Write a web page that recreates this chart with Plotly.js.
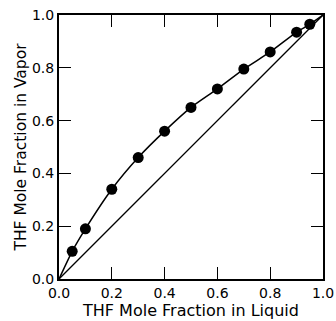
<!DOCTYPE html>
<html>
<head>
<meta charset="utf-8">
<script src="https://cdn.plot.ly/plotly-3.0.1.min.js"></script>
<style>html,body{margin:0;padding:0;background:#fff;}#chart{width:336px;height:321px;}</style>
</head>
<body>
<div id="chart"></div>
<script>
// Liquid mole fraction of THF (x) and vapor mole fraction (y)
const liquidX = [0.05, 0.10, 0.20, 0.30, 0.40, 0.50, 0.60, 0.70, 0.80, 0.90, 0.95];
const vaporY  = [0.105, 0.19, 0.34, 0.46, 0.56, 0.65, 0.72, 0.795, 0.86, 0.935, 0.965];
// curve endpoints (pure components)
const curveX = [0].concat(liquidX, [1]);
const curveY = [0].concat(vaporY, [1]);
const diagX = [0, 1];
const diagY = [0, 1];
const tickVals = [0, 0.2, 0.4, 0.6, 0.8, 1.0];

const font = {family: 'DejaVu Sans, sans-serif', color: '#000'};

const traces = [
  {x: diagX, y: diagY, mode: 'lines', line: {color: '#000', width: 1.3}, hoverinfo: 'skip'},
  {x: curveX, y: curveY, mode: 'lines', line: {color: '#000', width: 1.5, shape: 'spline', smoothing: 0.6}, hoverinfo: 'skip'},
  {x: liquidX, y: vaporY, mode: 'markers', marker: {color: '#000', size: 11}}
];

const axisBase = {
  range: [0, 1], tickvals: tickVals, tickformat: '.1f',
  ticks: 'inside', ticklen: 12, tickwidth: 1.3, tickcolor: '#000',
  showline: true, linecolor: '#000', linewidth: 2, mirror: 'ticks',
  showgrid: false, zeroline: false,
  tickfont: Object.assign({size: 14}, font)
};

const layout = {
  width: 336, height: 321,
  margin: {l: 59, r: 13, t: 15, b: 42},
  paper_bgcolor: '#fff', plot_bgcolor: '#fff',
  showlegend: false,
  xaxis: Object.assign({}, axisBase, {
    title: {text: 'THF Mole Fraction in Liquid', font: Object.assign({size: 16}, font), standoff: 0}
  }),
  yaxis: Object.assign({}, axisBase, {
    ticklabelstandoff: 0,
    title: {text: 'THF Mole Fraction in Vapor', font: Object.assign({size: 15.5}, font), standoff: 2}
  })
};

Plotly.newPlot('chart', traces, layout, {staticPlot: true, displayModeBar: false});
</script>
</body>
</html>
